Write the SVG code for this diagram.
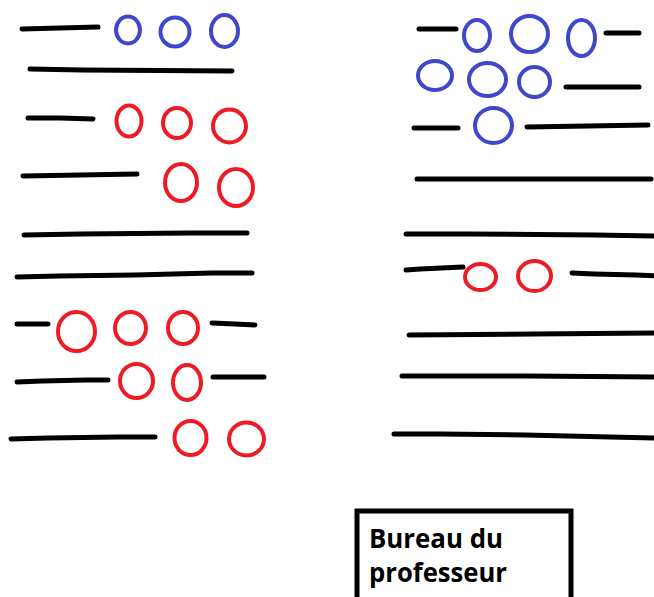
<svg xmlns="http://www.w3.org/2000/svg" width="654" height="597" viewBox="0 0 654 597">
<style>
.l{stroke:#000;stroke-width:5;stroke-linecap:round;fill:none}
.b{stroke:#3F48CC;stroke-width:4;fill:none}
.r{stroke:#ED1C24;stroke-width:4;fill:none}
.t{font-family:"Open Sans","DejaVu Sans",sans-serif;font-weight:bold;font-size:27px;fill:#000}
</style>
<rect width="654" height="597" fill="#fff"/>
<g id="left">
<polyline class="l" points="22,29 60,28 98,27"/>
<ellipse class="b" cx="128" cy="30" rx="12" ry="13.5"/>
<ellipse class="b" cx="175" cy="32" rx="14.5" ry="14.5"/>
<ellipse class="b" cx="224.5" cy="31" rx="13.5" ry="16"/>
<polyline class="l" points="30,69 82,70 232,71"/>
<polyline class="l" points="28,118 60,118 93,119"/>
<ellipse class="r" cx="129" cy="121" rx="12.5" ry="15.5"/>
<ellipse class="r" cx="177" cy="123" rx="14" ry="15"/>
<ellipse class="r" cx="229.5" cy="126" rx="16.5" ry="16.5"/>
<polyline class="l" points="23,176 80,175 137,174"/>
<ellipse class="r" cx="181" cy="182.5" rx="16" ry="18.5"/>
<ellipse class="r" cx="236" cy="187.5" rx="17" ry="18.5"/>
<polyline class="l" points="24,235 80,234 190,233 247,233"/>
<polyline class="l" points="17,277 58,276 135,275 212,273 252,273"/>
<line class="l" x1="17" y1="324" x2="48" y2="324"/>
<ellipse class="r" cx="76.5" cy="331.5" rx="18.5" ry="19.5"/>
<ellipse class="r" cx="130.5" cy="328" rx="15.5" ry="16"/>
<ellipse class="r" cx="183" cy="328" rx="15" ry="16"/>
<polyline class="l" points="212,323 235,324 255,325"/>
<polyline class="l" points="17,382 42,381 86,380 108,380"/>
<ellipse class="r" cx="136.5" cy="381" rx="16.5" ry="17"/>
<ellipse class="r" cx="187" cy="382.5" rx="14" ry="17.5"/>
<line class="l" x1="213" y1="377" x2="264" y2="377"/>
<polyline class="l" points="11,439 48,438 118,437 155,437"/>
<ellipse class="r" cx="190.5" cy="438" rx="16" ry="17"/>
<ellipse class="r" cx="246.5" cy="439" rx="17.5" ry="16.5"/>
</g>
<g id="right">
<line class="l" x1="419" y1="29" x2="456" y2="29"/>
<ellipse class="b" cx="477" cy="35.5" rx="13" ry="15.5"/>
<ellipse class="b" cx="529.5" cy="34" rx="18.5" ry="18"/>
<ellipse class="b" cx="581.5" cy="38" rx="13.5" ry="18"/>
<line class="l" x1="606" y1="33" x2="639" y2="33"/>
<ellipse class="b" cx="435" cy="75.5" rx="17" ry="14.5"/>
<ellipse class="b" cx="487.5" cy="79.5" rx="18.5" ry="16.5"/>
<ellipse class="b" cx="534.5" cy="82" rx="15.5" ry="15"/>
<line class="l" x1="566" y1="87" x2="639" y2="87"/>
<line class="l" x1="414" y1="128" x2="458" y2="128"/>
<ellipse class="b" cx="493.5" cy="125.5" rx="18.5" ry="17.5"/>
<polyline class="l" points="527,127 588,126 648,125"/>
<line class="l" x1="417" y1="179" x2="651" y2="179"/>
<polyline class="l" points="406,234 470,234 595,235 660,236"/>
<polyline class="l" points="406,270 420,269 463,267"/>
<ellipse class="r" cx="480.5" cy="277" rx="15.5" ry="13"/>
<ellipse class="r" cx="534.5" cy="276" rx="16.5" ry="15"/>
<polyline class="l" points="572,273 594,274 636,275 660,276"/>
<polyline class="l" points="409,335 533,334 660,333"/>
<polyline class="l" points="402,376 528,376 660,377"/>
<polyline class="l" points="394,434 440,434 525,435 610,437 660,438"/>
</g>
<g id="bureau">
<rect x="357" y="511" width="214" height="100" fill="none" stroke="#000" stroke-width="5"/>
<text class="t" x="369" y="548" textLength="134" lengthAdjust="spacingAndGlyphs">Bureau du</text>
<text class="t" x="369" y="582" textLength="138" lengthAdjust="spacingAndGlyphs">professeur</text>
</g>
</svg>
